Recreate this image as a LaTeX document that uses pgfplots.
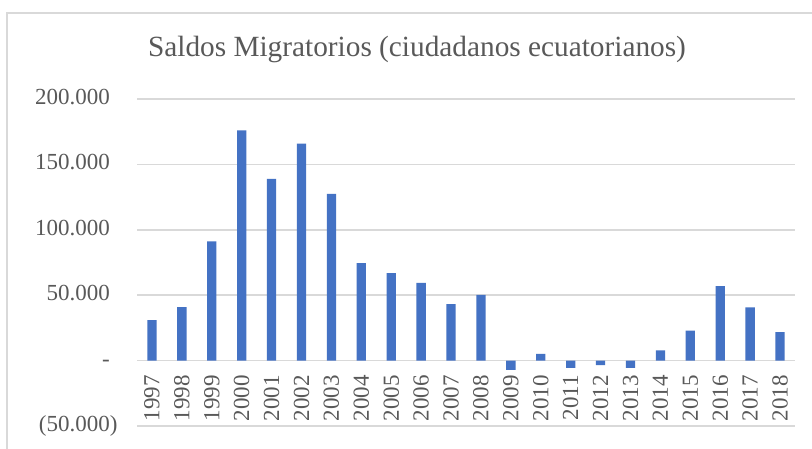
\documentclass[border=0pt]{standalone}
\usepackage{pgfplots}
\pgfplotsset{compat=1.18}
\usepackage{fontspec}
\setmainfont{Liberation Serif}
\definecolor{barblue}{HTML}{4472C4}
\definecolor{txtgray}{HTML}{595959}
\definecolor{gridgray}{HTML}{D9D9D9}
\begin{document}
\begin{tikzpicture}
\useasboundingbox (0,0) rectangle (812pt,448pt);
\fill[white] (0,0) rectangle (812pt,448pt);
\draw[gridgray, line width=1.5pt] (7pt,-20pt) rectangle (840pt,435pt);
\node[font=\fontsize{29.3}{33}\selectfont, text=txtgray, anchor=base] at (417pt,391pt) {Saldos Migratorios (ciudadanos ecuatorianos)};
\begin{axis}[
  at={(137pt,22pt)}, anchor=south west,
  scale only axis, width=658pt, height=327pt,
  axis x line=middle, axis y line=left,
  axis line style={draw=none},
  enlargelimits=false,
  xmin=-0.5, xmax=21.5,
  ymin=-50000, ymax=200000,
  scaled y ticks=false,
  ytick={-50000,0,50000,100000,150000,200000},
  yticklabels={(50.000),-\phantom{)},50.000\phantom{)},100.000\phantom{)},150.000\phantom{)},200.000\phantom{)}},
  xtick={0,...,21},
  xticklabels={1997,1998,1999,2000,2001,2002,2003,2004,2005,2006,2007,2008,2009,2010,2011,2012,2013,2014,2015,2016,2017,2018},
  major tick length=0pt,
  ymajorgrids, xmajorgrids=false,
  grid style={gridgray, line width=1.5pt},
  tick label style={font=\fontsize{23}{26}\selectfont, text=txtgray},
  yticklabel style={xshift=-16pt},
  xticklabel style={yshift=-11pt, rotate=90, anchor=east},
]
\addplot[ybar, bar width=9.3pt, fill=barblue, draw=none] coordinates {
(0,31000) (1,40900) (2,91100) (3,176100) (4,138900) (5,165900) (6,127400)
(7,74600) (8,66900) (9,59500) (10,43200) (11,50300) (12,-7100) (13,5100)
(14,-5500) (15,-3500) (16,-5500) (17,7900) (18,23000) (19,56900) (20,40600) (21,21700)
};
\end{axis}
\end{tikzpicture}
\end{document}
